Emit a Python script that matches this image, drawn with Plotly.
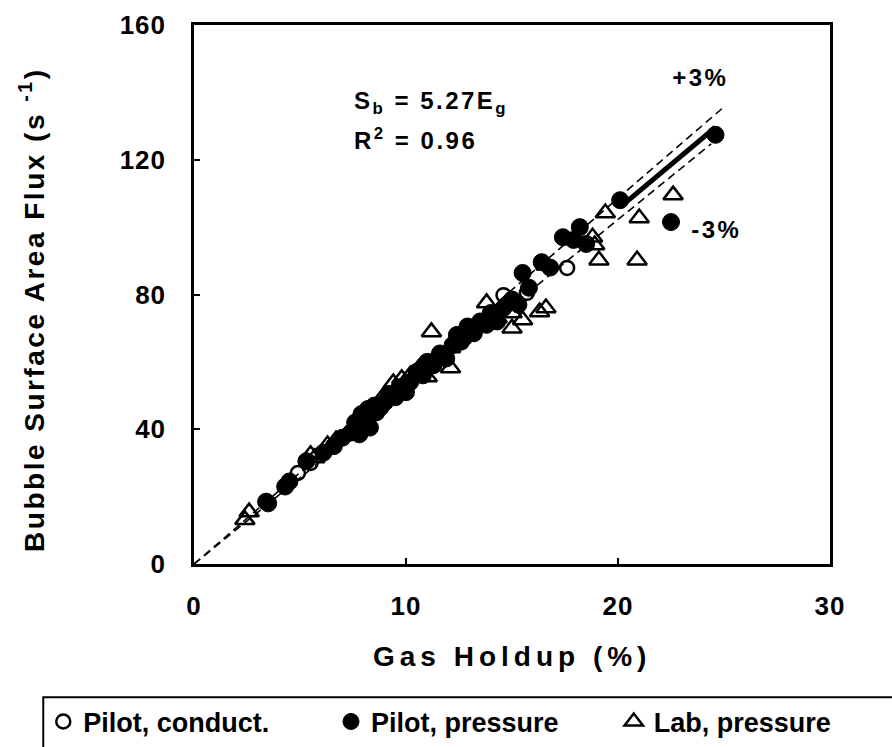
import plotly.graph_objects as go

# Gas holdup (%) and bubble surface area flux (1/s) for each data set
conduct_x = [4.9, 5.5, 8.4, 10.6, 12.4, 14.6, 15.7, 17.6]
conduct_y = [27.0, 30.0, 45.5, 57.5, 66.5, 79.8, 80.5, 87.9]

pressure_x = [3.4, 3.5, 4.3, 4.5, 5.3, 6.1, 6.6, 7.0, 7.4, 7.6, 7.8, 7.9, 8.0, 8.1,
              8.2, 8.3, 8.5, 8.6, 8.8, 9.0, 9.2, 9.5, 9.7, 10.0, 10.2, 10.5, 10.8,
              11.0, 11.3, 11.6, 11.9, 12.2, 12.4, 12.6, 12.9, 13.2, 13.5, 13.8, 14.0,
              14.3, 14.6, 15.0, 15.3, 15.5, 15.8, 16.4, 16.8, 17.4, 17.9, 18.2, 18.5,
              20.1, 22.5, 24.6]
pressure_y = [18.5, 18.0, 23.0, 24.5, 30.5, 33.0, 35.0, 37.5, 39.0, 42.0, 38.5, 44.5,
              41.0, 43.0, 46.0, 40.5, 47.0, 45.0, 46.5, 48.0, 50.5, 49.5, 52.5, 51.0,
              54.0, 57.0, 56.0, 60.0, 59.0, 62.5, 61.0, 65.0, 68.0, 66.0, 70.5, 68.5,
              72.0, 71.0, 74.5, 72.0, 76.0, 78.5, 77.0, 86.4, 82.0, 89.6, 88.0, 97.0,
              96.2, 100.0, 95.0, 108.0, 101.5, 127.4]

lab_x = [2.4, 2.6, 5.5, 5.7, 6.3, 6.7, 7.7, 8.3, 8.9, 9.4, 9.8, 10.2, 10.6, 11.0,
         11.2, 11.2, 12.1, 12.1, 12.6, 13.1, 13.8, 14.3, 15.0, 15.0, 15.5, 16.3, 16.6,
         16.6, 18.8, 18.9, 19.1, 19.4, 20.9, 21.0, 22.6]
lab_y = [13.1, 15.4, 32.4, 31.5, 35.3, 36.8, 41.5, 45.0, 49.5, 53.7, 55.0, 56.0, 58.0,
         55.5, 59.7, 68.9, 58.2, 64.1, 67.0, 69.5, 77.5, 73.0, 74.5, 70.0, 72.4, 74.8,
         76.0, 88.7, 97.0, 94.7, 90.2, 104.2, 90.2, 102.7, 109.5]

# Fitted slope and the +/-3 % band
slope = 5.27
band_plus_x = [0, 25.0]
band_minus_x = [0, 24.4]
fit_x = [20.2, 24.6]

x_ticks = [0, 10, 20, 30]
y_ticks = [0, 40, 80, 120, 160]

FONT = "Liberation Sans"

fig = go.Figure()

fig.add_trace(go.Scatter(x=band_plus_x, y=[slope * 1.03 * v for v in band_plus_x],
                         mode="lines", line=dict(color="black", width=1.6, dash="8px,5px"),
                         showlegend=False, hoverinfo="skip"))
fig.add_trace(go.Scatter(x=band_minus_x, y=[slope * 0.97 * v for v in band_minus_x],
                         mode="lines", line=dict(color="black", width=1.6, dash="8px,5px"),
                         showlegend=False, hoverinfo="skip"))
fig.add_trace(go.Scatter(x=fit_x, y=[slope * v for v in fit_x],
                         mode="lines", line=dict(color="black", width=5),
                         showlegend=False, hoverinfo="skip"))

fig.add_trace(go.Scatter(x=pressure_x, y=pressure_y, mode="markers", name="Pilot, pressure",
                         marker=dict(symbol="circle", size=17, color="black",
                                     line=dict(color="black", width=1)),
                         legend="legend2"))
fig.add_trace(go.Scatter(x=conduct_x, y=conduct_y, mode="markers", name="Pilot, conduct.",
                         marker=dict(symbol="circle-open", size=14, color="black",
                                     line=dict(color="black", width=2.5)),
                         legend="legend"))
fig.add_trace(go.Scatter(x=lab_x, y=lab_y, mode="markers", name="Lab, pressure",
                         marker=dict(symbol="triangle-up-open", size=17, color="black",
                                     line=dict(color="black", width=2.5)),
                         legend="legend3"))

axis_common = dict(showline=True, linecolor="black", linewidth=2.5, mirror=True,
                   ticks="inside", ticklen=6, tickwidth=1.5, tickcolor="black",
                   showgrid=False, zeroline=False,
                   tickfont=dict(family=FONT, size=26, color="black", weight="bold"))

fig.update_xaxes(range=[0, 30], tickvals=x_ticks, ticktext=[str(v) for v in x_ticks],
                 ticklabelstandoff=17, **axis_common)
fig.update_yaxes(range=[0, 160], tickvals=y_ticks, ticktext=[str(v) for v in y_ticks],
                 ticklabelstandoff=20, **axis_common)

legend_font = dict(family=FONT, size=27, color="black", weight="bold")
leg = dict(orientation="h", yanchor="middle", y=-0.293, xanchor="left",
           bgcolor="rgba(0,0,0,0)", borderwidth=0, font=legend_font,
           itemclick=False, itemdoubleclick=False)
fig.update_layout(
    legend=dict(x=-0.237, **leg),
    legend2=dict(x=0.2154, **leg),
    legend3=dict(x=0.6600, **leg),
)

ann_font = dict(family=FONT, size=24, color="black", weight="bold")
fig.add_annotation(x=0.249, y=0.857, xref="paper", yref="paper", xanchor="left", yanchor="middle",
                   align="left", text="S<sub>b</sub> = 5.27E<sub>g</sub>", showarrow=False,
                   font=ann_font)
fig.add_annotation(x=0.249, y=0.7885, xref="paper", yref="paper", xanchor="left", yanchor="middle",
                   align="left", text="R<sup>2</sup> = 0.96", showarrow=False, font=ann_font)
fig.add_annotation(x=0.7956, y=0.9017, xref="paper", yref="paper", xanchor="center", yanchor="middle",
                   text="+3%", showarrow=False, font=ann_font)
fig.add_annotation(x=0.822, y=0.6197, xref="paper", yref="paper", xanchor="center", yanchor="middle",
                   text="-3%", showarrow=False, font=ann_font)

fig.add_annotation(x=0.5, y=-0.1707, xref="paper", yref="paper", xanchor="center", yanchor="middle",
                   text="Gas Holdup (%)", showarrow=False,
                   font=dict(family=FONT, size=28, color="black", weight="bold"))
fig.add_annotation(x=-0.2547, y=0.471, xref="paper", yref="paper", xanchor="center", yanchor="middle",
                   text="Bubble Surface Area Flux (s <sup>-1</sup>)", textangle=-90,
                   showarrow=False, font=dict(family=FONT, size=28, color="black", weight="bold"))

# Frame around the legend row
fig.add_shape(type="rect", xref="paper", yref="paper", x0=-0.237, x1=1.2, y0=-0.247, y1=-0.5,
              line=dict(color="black", width=2), fillcolor="rgba(0,0,0,0)")

fig.update_layout(
    width=892, height=747,
    margin=dict(l=194, r=62, t=25, b=183, autoexpand=False),
    paper_bgcolor="white", plot_bgcolor="white",
    font=dict(family=FONT, color="black"),
)

# Widen the letter spacing of tick labels and notes
post_js = """
var gd = document.getElementById('{plot_id}');
function spaceText() {
  gd.querySelectorAll('.xtick text, .ytick text').forEach(function(t) {
    t.style.letterSpacing = '1px';
  });
  gd.querySelectorAll('.annotation-text').forEach(function(t) {
    t.style.letterSpacing = (t.textContent.indexOf('Gas Holdup') === 0) ? '5px' : '2.5px';
  });
}
spaceText();
setTimeout(spaceText, 30);
"""

fig.write_html("out.html", post_script=post_js)
